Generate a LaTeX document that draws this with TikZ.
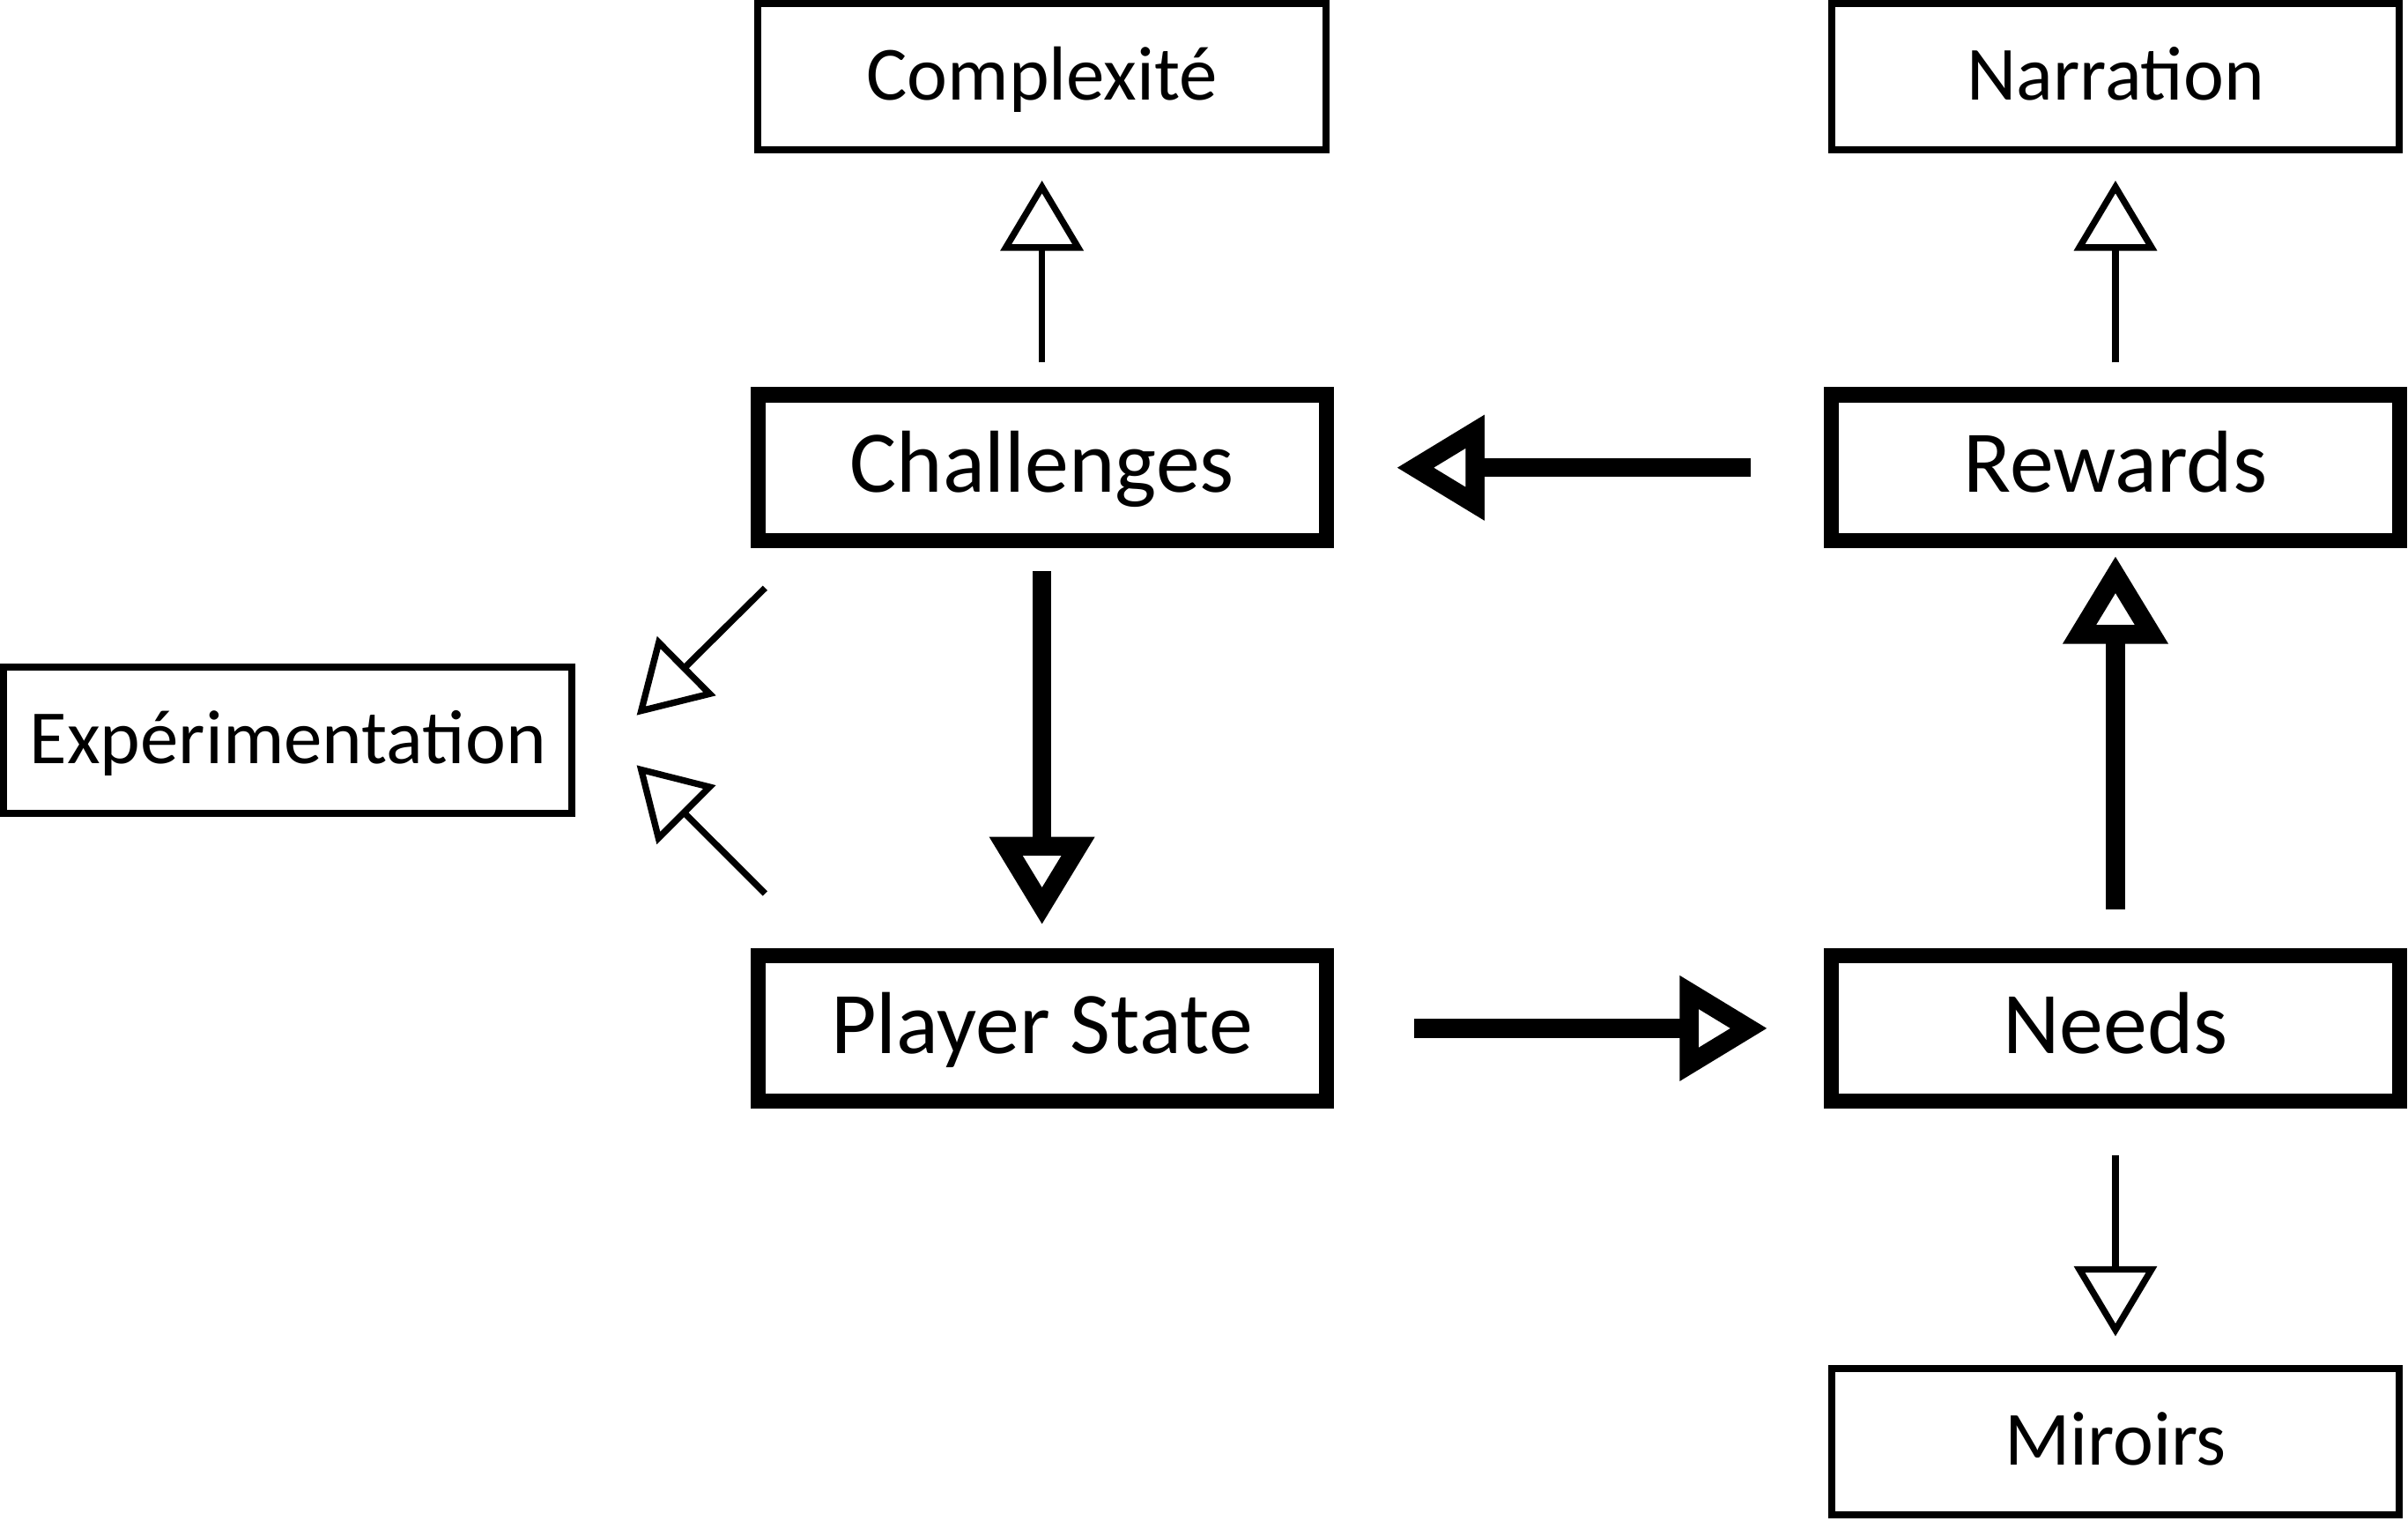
\documentclass[tikz,border=0pt]{standalone}
\usepackage{fontspec}
\setmainfont{Carlito}
\usetikzlibrary{arrows.meta, positioning, calc}

\tikzset{
  thinbox/.style={draw, line width=1.3pt, minimum width=3.7cm, minimum height=0.95cm, inner sep=0pt, text height=8.7pt, text depth=0pt, font=\fontsize{14.2}{17}\selectfont},
  thickbox/.style={draw, line width=2.8pt, minimum width=3.7cm, minimum height=0.95cm, inner sep=0pt, text height=9.2pt, text depth=0pt, font=\fontsize{16.3}{19}\selectfont},
  thinarrow/.style={line width=1.2pt, -{Triangle[open, length=13pt, width=15.2pt]}},
  thickarrow/.style={line width=3.5pt, -{Triangle[open, length=16.3pt, width=18.6pt]}}
}

\begin{document}
\begin{tikzpicture}
  \useasboundingbox (0, 0) rectangle (15.68, -9.897);

  % Outer boxes
  \node[thinbox] (complex) at (6.785, -0.50) {Complexité};
  \node[thinbox] (narr) at (13.775, -0.50) {Narration};
  \node[thinbox] (exper) at (1.875, -4.82) {Expérimentation};
  \node[thinbox] (mirr) at (13.775, -9.385) {Miroirs};

  % Loop boxes
  \node[thickbox] (chal) at (6.785, -3.045) {Challenges};
  \node[thickbox] (rew) at (13.775, -3.045) {Rewards};
  \node[thickbox] (player) at (6.785, -6.695) {Player State};
  \node[thickbox] (needs) at (13.775, -6.695) {Needs};

  % Main loop
  \draw[thickarrow, shorten <=0.15cm, shorten >=0.15cm] (chal.south) -- (player.north);
  \draw[thickarrow, shorten <=0.526cm, shorten >=0.366cm] (player.east) -- (needs.west);
  \draw[thickarrow, shorten <=0.25cm, shorten >=0.05cm] (needs.north) -- (rew.south);
  \draw[thickarrow, shorten <=0.476cm, shorten >=0.409cm] (rew.west) -- (chal.east);

  % Side effects
  \draw[thinarrow, shorten <=0.16cm, shorten >=0.178cm] (chal.north) -- (complex.south);
  \draw[thinarrow, shorten <=0.16cm, shorten >=0.178cm] (rew.north) -- (narr.south);
  \draw[thinarrow, shorten <=0.30cm, shorten >=0.187cm] (needs.south) -- (mirr.north);
  \draw[thinarrow] ([shift={(0.096, -0.259)}]chal.south west) -- ([shift={(0.398, 0.163)}]exper.east);
  \draw[thinarrow] ([shift={(0.096, 0.353)}]player.north west) -- ([shift={(0.398, -0.162)}]exper.east);
\end{tikzpicture}
\end{document}
